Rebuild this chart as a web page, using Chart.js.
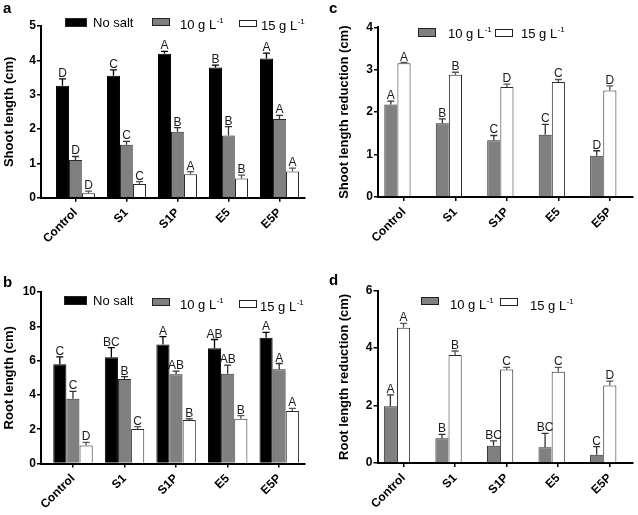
<!DOCTYPE html>
<html>
<head>
<meta charset="utf-8">
<script src="https://cdn.jsdelivr.net/npm/chart.js@4.4.1/dist/chart.umd.min.js"></script>
<style>
  body { margin: 0; background: #fff; }
  #wrap { position: relative; width: 638px; height: 515px; }
  canvas { position: absolute; }
</style>
</head>
<body>
<div id="wrap">
  <canvas id="chartA" width="318" height="255" style="left:0;top:0"></canvas>
  <canvas id="chartC" width="320" height="255" style="left:318px;top:0"></canvas>
  <canvas id="chartB" width="318" height="260" style="left:0;top:255px"></canvas>
  <canvas id="chartD" width="320" height="260" style="left:318px;top:255px"></canvas>
</div>
<script>
const categories = ['Control', 'S1', 'S1P', 'E5', 'E5P'];
const seriesLabels = ['No salt', '10 g L^-1', '15 g L^-1'];

// a - shoot length
const shootTicks = [0, 1, 2, 3, 4, 5];
const shootNoSalt = [3.26, 3.55, 4.19, 3.79, 4.05];
const shootNoSaltErr = [0.20, 0.17, 0.07, 0.07, 0.16];
const shootNoSaltLetters = ['D', 'C', 'A', 'B', 'A'];
const shoot10 = [1.10, 1.54, 1.92, 1.81, 2.29];
const shoot10Err = [0.10, 0.10, 0.12, 0.26, 0.11];
const shoot10Letters = ['D', 'C', 'B', 'B', 'A'];
const shoot15 = [0.13, 0.40, 0.68, 0.56, 0.76];
const shoot15Err = [0.06, 0.07, 0.08, 0.10, 0.10];
const shoot15Letters = ['D', 'C', 'A', 'B', 'A'];

// b - root length
const rootTicks = [0, 2, 4, 6, 8, 10];
const rootNoSalt = [5.79, 6.20, 6.94, 6.72, 7.33];
const rootNoSaltErr = [0.43, 0.56, 0.46, 0.51, 0.31];
const rootNoSaltLetters = ['C', 'BC', 'A', 'AB', 'A'];
const root10 = [3.77, 4.92, 5.21, 5.23, 5.50];
const root10Err = [0.43, 0.15, 0.18, 0.51, 0.33];
const root10Letters = ['C', 'B', 'AB', 'AB', 'A'];
const root15 = [1.05, 2.01, 2.54, 2.61, 3.06];
const root15Err = [0.18, 0.14, 0.07, 0.18, 0.16];
const root15Letters = ['D', 'C', 'B', 'B', 'A'];

// c - shoot length reduction
const shootRedTicks = [0, 1, 2, 3, 4];
const shootRed10 = [2.18, 1.74, 1.34, 1.47, 0.97];
const shootRed10Err = [0.08, 0.10, 0.11, 0.24, 0.12];
const shootRed10Letters = ['A', 'B', 'C', 'C', 'D'];
const shootRed15 = [3.15, 2.88, 2.59, 2.71, 2.51];
const shootRed15Err = [0.02, 0.06, 0.07, 0.06, 0.11];
const shootRed15Letters = ['A', 'B', 'D', 'C', 'D'];

// d - root length reduction
const rootRedTicks = [0, 2, 4, 6];
const rootRed10 = [1.98, 0.86, 0.60, 0.55, 0.29];
const rootRed10Err = [0.39, 0.14, 0.17, 0.48, 0.28];
const rootRed10Letters = ['A', 'B', 'BC', 'BC', 'C'];
const rootRed15 = [4.71, 3.76, 3.26, 3.18, 2.70];
const rootRed15Err = [0.15, 0.14, 0.07, 0.15, 0.15];
const rootRed15Letters = ['A', 'B', 'C', 'C', 'D'];

const FONT = "Arial, 'Liberation Sans', Helvetica, sans-serif";
const fills = ['#000000', '#808080', '#ffffff'];
const borders = ['#000000', '#2a2a2a', '#2a2a2a'];
const borderWidths = [1, { top: 1, left: 1, right: 0, bottom: 0 }, 1];
const errColors = ['#000000', '#333333', '#555555'];

function toPoints(vals) {
  return vals.map((v, i) => ({ x: i, y: v }));
}

function drawLabel(ctx, text, x, y) {
  const parts = text.split('^');
  ctx.font = '13px ' + FONT;
  ctx.fillText(parts[0], x, y);
  if (parts[1]) {
    const w = ctx.measureText(parts[0]).width;
    ctx.font = '8px ' + FONT;
    ctx.fillText(parts[1], x + w + 0.5, y - 6);
  }
}

function makeChart(id, p) {
  const datasets = p.series.map(s => ({
    label: seriesLabels[s.k],
    data: toPoints(s.values),
    errors: s.errors,
    letters: s.letters,
    errColor: errColors[s.k],
    backgroundColor: fills[s.k],
    borderColor: borders[s.k],
    borderWidth: borderWidths[s.k],
    categoryPercentage: 0.765,
    barPercentage: 1
  }));
  // Prism leaves an empty third slot in the two-series panels
  if (p.emptySlot) {
    datasets.push({
      label: '',
      data: categories.map((c, i) => ({ x: i, y: null })),
      categoryPercentage: 0.765,
      barPercentage: 1
    });
  }

  const marks = {
    id: 'marks',
    afterDatasetsDraw(chart) {
      const ctx = chart.ctx;
      const y = chart.scales.y;
      chart.data.datasets.forEach((ds, di) => {
        if (!ds.errors) return;
        chart.getDatasetMeta(di).data.forEach((bar, i) => {
          const top = y.getPixelForValue(ds.data[i].y + ds.errors[i]);
          ctx.save();
          ctx.strokeStyle = ds.errColor;
          ctx.lineWidth = 1.3;
          ctx.beginPath();
          ctx.moveTo(bar.x, bar.y);
          ctx.lineTo(bar.x, top);
          ctx.moveTo(bar.x - 3.5, top);
          ctx.lineTo(bar.x + 3.5, top);
          ctx.stroke();
          ctx.fillStyle = '#1a1a1a';
          ctx.font = '12px ' + FONT;
          ctx.textAlign = 'center';
          ctx.textBaseline = 'alphabetic';
          ctx.fillText(ds.letters[i], bar.x, top - 2);
          ctx.restore();
        });
      });
    },
    afterDraw(chart) {
      const ctx = chart.ctx;
      ctx.save();
      ctx.fillStyle = '#000';
      ctx.textBaseline = 'alphabetic';
      ctx.textAlign = 'left';
      ctx.font = 'bold 15px ' + FONT;
      ctx.fillText(p.panel.text, p.panel.x, p.panel.y);
      p.legend.forEach((it, k) => {
        const ds = chart.data.datasets[k];
        ctx.fillStyle = ds.backgroundColor;
        ctx.fillRect(it.bx, it.by, it.bw, it.bh);
        ctx.strokeStyle = '#222';
        ctx.lineWidth = 1;
        ctx.strokeRect(it.bx + 0.5, it.by + 0.5, it.bw - 1, it.bh - 1);
        ctx.fillStyle = '#000';
        drawLabel(ctx, ds.label, it.tx, it.ty);
      });
      ctx.restore();
    }
  };

  return new Chart(document.getElementById(id), {
    type: 'bar',
    data: { datasets },
    options: {
      responsive: false,
      animation: false,
      events: [],
      layout: { padding: { top: p.top, right: p.right, left: 0, bottom: 0 } },
      plugins: { legend: { display: false }, tooltip: { enabled: false } },
      scales: {
        x: {
          type: 'linear',
          min: p.xMin,
          max: p.xMax,
          offset: false,
          afterBuildTicks: s => { s.ticks = categories.map((c, i) => ({ value: i })); },
          afterFit: s => { s.height = p.xHeight; },
          ticks: {
            callback: v => categories[v],
            autoSkip: false,
            minRotation: 45,
            maxRotation: 45,
            padding: 4,
            color: '#000',
            font: { family: FONT, size: 12, weight: 'bold' }
          },
          grid: { offset: false, drawOnChartArea: false, drawTicks: true, tickLength: 4, color: '#000', lineWidth: 1.5 },
          border: { display: true, color: '#000', width: 2 }
        },
        y: {
          min: p.yTicks[0],
          max: p.yTicks[p.yTicks.length - 1],
          afterBuildTicks: s => { s.ticks = p.yTicks.map(v => ({ value: v })); },
          afterFit: s => { s.width = p.yWidth; },
          ticks: { padding: 1, color: '#000', font: { family: FONT, size: 12, weight: 'bold' } },
          grid: { drawOnChartArea: false, drawTicks: true, tickLength: 4, color: '#000', lineWidth: 1.5 },
          border: { display: true, color: '#000', width: 2 },
          title: {
            display: true,
            text: p.yTitle,
            color: '#000',
            font: { family: FONT, size: 13, weight: 'bold' },
            padding: { top: p.titlePad, bottom: 0 }
          }
        }
      }
    },
    plugins: [marks]
  });
}

makeChart('chartA', {
  yTicks: shootTicks, yTitle: 'Shoot length (cm)',
  xMin: -0.676, xMax: 4.5, top: 26, right: 13, yWidth: 41, xHeight: 57.3, titlePad: 1.2,
  panel: { text: 'a', x: 3, y: 13 },
  series: [
    { k: 0, values: shootNoSalt, errors: shootNoSaltErr, letters: shootNoSaltLetters },
    { k: 1, values: shoot10, errors: shoot10Err, letters: shoot10Letters },
    { k: 2, values: shoot15, errors: shoot15Err, letters: shoot15Letters }
  ],
  legend: [
    { bx: 65, by: 18, bw: 22, bh: 9, tx: 93, ty: 27 },
    { bx: 152, by: 18, bw: 18, bh: 8, tx: 180, ty: 28.5 },
    { bx: 239, by: 20, bw: 18, bh: 7, tx: 261, ty: 30 }
  ]
});

makeChart('chartB', {
  yTicks: rootTicks, yTitle: 'Root length (cm)',
  xMin: -0.62, xMax: 4.5, top: 37, right: 13, yWidth: 41, xHeight: 51.5, titlePad: 1.4,
  panel: { text: 'b', x: 3, y: 32 },
  series: [
    { k: 0, values: rootNoSalt, errors: rootNoSaltErr, letters: rootNoSaltLetters },
    { k: 1, values: root10, errors: root10Err, letters: root10Letters },
    { k: 2, values: root15, errors: root15Err, letters: root15Letters }
  ],
  legend: [
    { bx: 64, by: 41, bw: 23, bh: 9, tx: 93, ty: 50 },
    { bx: 152, by: 43, bw: 18, bh: 8, tx: 180, ty: 53.5 },
    { bx: 239, by: 45, bw: 18, bh: 8, tx: 260, ty: 56 }
  ]
});

makeChart('chartC', {
  yTicks: shootRedTicks, yTitle: 'Shoot length reduction (cm)', emptySlot: true,
  xMin: -0.505, xMax: 4.45, top: 27.3, right: 5, yWidth: 60, xHeight: 58, titlePad: 18.7,
  panel: { text: 'c', x: 11, y: 13 },
  series: [
    { k: 1, values: shootRed10, errors: shootRed10Err, letters: shootRed10Letters },
    { k: 2, values: shootRed15, errors: shootRed15Err, letters: shootRed15Letters }
  ],
  legend: [
    { bx: 100, by: 28, bw: 18, bh: 9, tx: 130, ty: 37.5 },
    { bx: 177, by: 29, bw: 18, bh: 8, tx: 203, ty: 37.5 }
  ]
});

makeChart('chartD', {
  yTicks: rootRedTicks, yTitle: 'Root length reduction (cm)', emptySlot: true,
  xMin: -0.505, xMax: 4.45, top: 35.7, right: 5, yWidth: 59.5, xHeight: 52, titlePad: 19,
  panel: { text: 'd', x: 11, y: 30 },
  series: [
    { k: 1, values: rootRed10, errors: rootRed10Err, letters: rootRed10Letters },
    { k: 2, values: rootRed15, errors: rootRed15Err, letters: rootRed15Letters }
  ],
  legend: [
    { bx: 103, by: 42, bw: 18, bh: 8, tx: 132, ty: 54 },
    { bx: 182, by: 43, bw: 18, bh: 8, tx: 212, ty: 55 }
  ]
});
</script>
</body>
</html>
